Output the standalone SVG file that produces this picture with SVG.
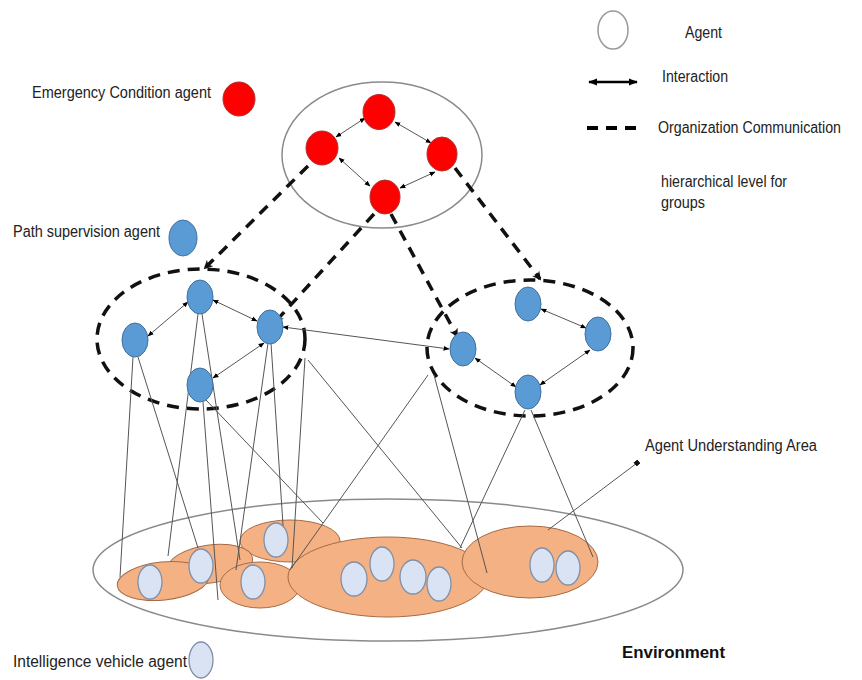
<svg xmlns="http://www.w3.org/2000/svg" width="862" height="680" viewBox="0 0 862 680">
<defs>
<marker id="ah" viewBox="0 0 10 10" refX="9" refY="5" markerWidth="6" markerHeight="6" orient="auto-start-reverse" markerUnits="userSpaceOnUse"><path d="M0,1 L10,5 L0,9 z" fill="#000"/></marker>
<marker id="ahL" viewBox="0 0 10 10" refX="9" refY="5" markerWidth="9" markerHeight="9" orient="auto-start-reverse" markerUnits="userSpaceOnUse"><path d="M0,1 L10,5 L0,9 z" fill="#000"/></marker>
<marker id="dh" viewBox="0 0 10 10" refX="8" refY="5" markerWidth="9" markerHeight="9" orient="auto" markerUnits="userSpaceOnUse"><path d="M0,0 L10,5 L0,10 L3,5 z" fill="#111"/></marker>
<marker id="dot" viewBox="0 0 10 10" refX="5" refY="5" markerWidth="5" markerHeight="5" orient="auto" markerUnits="userSpaceOnUse"><rect x="0" y="0" width="10" height="10" fill="#111"/></marker>
</defs>
<style>
.lbl{font-family:"Liberation Sans Narrow","Liberation Sans",Arial,sans-serif;font-size:16px;fill:#222}
.env{font-family:"Liberation Sans Narrow","Liberation Sans",Arial,sans-serif;font-size:17px;font-weight:bold;fill:#111}
.red{fill:#FF0000;stroke:#B03030;stroke-width:1}
.blue{fill:#5B9BD5;stroke:#41719C;stroke-width:1}
.veh{fill:#DAE3F3;stroke:#7F8FA8;stroke-width:1.3}
.area{fill:#F4B183;stroke:#A86A45;stroke-width:1}
.thin{stroke:#555;stroke-width:1;fill:none}
.ia{stroke:#555;stroke-width:1;fill:none;marker-start:url(#ah);marker-end:url(#ah)}
.dash{stroke:#111;stroke-width:3.5;stroke-dasharray:11 8;fill:none;marker-end:url(#dh)}
.dgroup{fill:none;stroke:#111;stroke-width:3.5;stroke-dasharray:12 8}
.outline{fill:none;stroke:#8a8a8a;stroke-width:1.5}
</style>
<rect width="862" height="680" fill="#fff"/>

<!-- Legend -->
<g id="legend">
  <ellipse cx="613" cy="30" rx="15" ry="19" fill="#fff" stroke="#999" stroke-width="1.5"/>
  <text class="lbl" x="685" y="38" textLength="37" lengthAdjust="spacingAndGlyphs">Agent</text>
  <line x1="589" y1="82" x2="637" y2="82" stroke="#000" stroke-width="2.5" marker-start="url(#ahL)" marker-end="url(#ahL)"/>
  <text class="lbl" x="662" y="82" textLength="66" lengthAdjust="spacingAndGlyphs">Interaction</text>
  <line x1="587" y1="128" x2="638" y2="128" stroke="#000" stroke-width="4" stroke-dasharray="11 8"/>
  <text class="lbl" x="658" y="133" font-size="13.5" textLength="183" lengthAdjust="spacingAndGlyphs">Organization Communication</text>
  <text class="lbl" x="661" y="187" textLength="126" lengthAdjust="spacingAndGlyphs">hierarchical level for</text>
  <text class="lbl" x="661" y="208" textLength="44" lengthAdjust="spacingAndGlyphs">groups</text>
</g>
<g id="legend-emergency">
  <text class="lbl" x="32" y="98" textLength="179" lengthAdjust="spacingAndGlyphs">Emergency Condition agent</text>
  <ellipse class="red" cx="239" cy="99" rx="16" ry="17"/>
</g>
<g id="legend-path">
  <text class="lbl" x="13" y="237" textLength="147" lengthAdjust="spacingAndGlyphs">Path supervision agent</text>
  <ellipse class="blue" cx="183" cy="238" rx="14" ry="18"/>
</g>
<g id="legend-vehicle">
  <text class="lbl" x="13" y="667" font-size="15" textLength="174" lengthAdjust="spacingAndGlyphs">Intelligence vehicle agent</text>
  <ellipse class="veh" cx="201" cy="660" rx="12" ry="18"/>
</g>
<g id="label-environment">
  <text class="env" x="622" y="658" textLength="103" lengthAdjust="spacingAndGlyphs">Environment</text>
</g>
<g id="label-area">
  <text class="lbl" x="645" y="451" textLength="172" lengthAdjust="spacingAndGlyphs">Agent Understanding Area</text>
</g>

<!-- Environment -->
<g id="environment">
  <ellipse class="outline" cx="388" cy="570" rx="295" ry="71"/>
</g>

<!-- Understanding areas -->
<g id="areas">
  <ellipse id="area3" class="area" cx="290" cy="541" rx="50" ry="21"/>
  <ellipse id="area2" class="area" cx="210" cy="564" rx="43" ry="19" transform="rotate(-8 210 564)"/>
  <ellipse id="area1" class="area" cx="163" cy="581" rx="46" ry="19" transform="rotate(-6 163 581)"/>
  <ellipse id="area4" class="area" cx="260" cy="585" rx="40" ry="23"/>
  <ellipse id="area5" class="area" cx="388" cy="577" rx="100" ry="40"/>
  <ellipse id="area6" class="area" cx="530" cy="562" rx="68" ry="36"/>
</g>

<!-- Group outlines -->
<g id="group-emergency">
  <ellipse class="outline" cx="382" cy="155" rx="100" ry="73"/>
</g>
<g id="group-left">
  <ellipse class="dgroup" cx="201" cy="339" rx="104" ry="70"/>
</g>
<g id="group-right">
  <ellipse class="dgroup" cx="530" cy="348" rx="103" ry="68"/>
</g>

<!-- Connectors -->
<g id="connectors">
  <!-- understanding lines -->
  <line class="thin" x1="133" y1="357" x2="120" y2="577"/>
  <line class="thin" x1="138" y1="357" x2="198" y2="548"/>
  <line class="thin" x1="198" y1="314" x2="168" y2="556"/>
  <line class="thin" x1="202" y1="314" x2="240" y2="560"/>
  <line class="thin" x1="203" y1="402" x2="218" y2="600"/>
  <line class="thin" x1="206" y1="400" x2="323" y2="523"/>
  <line class="thin" x1="268" y1="343" x2="236" y2="570"/>
  <line class="thin" x1="271" y1="343" x2="284" y2="540"/>
  <line class="thin" x1="305" y1="358" x2="292" y2="568"/>
  <line class="thin" x1="308" y1="360" x2="462" y2="548"/>
  <line class="thin" x1="428" y1="375" x2="290" y2="570"/>
  <line class="thin" x1="434" y1="375" x2="487" y2="573"/>
  <line class="thin" x1="525" y1="410" x2="460" y2="548"/>
  <line class="thin" x1="531" y1="410" x2="593" y2="557"/>
  <line class="thin" x1="548" y1="530" x2="637" y2="463" marker-end="url(#dot)"/>
  <!-- interactions: emergency -->
  <line class="ia" x1="365" y1="118" x2="336" y2="137"/>
  <line class="ia" x1="395" y1="122" x2="431" y2="143"/>
  <line class="ia" x1="435" y1="172" x2="400" y2="188"/>
  <line class="ia" x1="370" y1="186" x2="339" y2="158"/>
  <!-- interactions: left group -->
  <line class="ia" x1="148" y1="336" x2="188" y2="302"/>
  <line class="ia" x1="213" y1="300" x2="257" y2="321"/>
  <line class="ia" x1="264" y1="343" x2="213" y2="378"/>
  <!-- interactions: right group -->
  <line class="ia" x1="541" y1="309" x2="586" y2="328"/>
  <line class="ia" x1="590" y1="350" x2="540" y2="385"/>
  <line class="ia" x1="516" y1="387" x2="475" y2="358"/>
  <!-- inter-group interaction -->
  <line class="ia" x1="283" y1="327" x2="449" y2="349"/>
  <!-- organization communication -->
  <line class="dash" x1="308" y1="166" x2="205" y2="268"/>
  <line class="dash" x1="374" y1="214" x2="276" y2="321"/>
  <line class="dash" x1="391" y1="214" x2="457" y2="336"/>
  <line class="dash" x1="455" y1="168" x2="540" y2="279"/>
</g>

<!-- Emergency agents -->
<g id="red-top"><ellipse class="red" cx="379" cy="112" rx="16" ry="17.5"/></g>
<g id="red-left"><ellipse class="red" cx="322" cy="148" rx="16" ry="17"/></g>
<g id="red-right"><ellipse class="red" cx="442" cy="154" rx="15" ry="17"/></g>
<g id="red-bottom"><ellipse class="red" cx="385" cy="197" rx="15" ry="17"/></g>

<!-- Path supervision agents -->
<g id="blue-l-top"><ellipse class="blue" cx="200" cy="297" rx="13" ry="17"/></g>
<g id="blue-l-left"><ellipse class="blue" cx="135" cy="340" rx="13" ry="17"/></g>
<g id="blue-l-right"><ellipse class="blue" cx="270" cy="327" rx="13" ry="17"/></g>
<g id="blue-l-bottom"><ellipse class="blue" cx="200" cy="385" rx="13" ry="17"/></g>
<g id="blue-r-left"><ellipse class="blue" cx="463" cy="349" rx="13" ry="17"/></g>
<g id="blue-r-top"><ellipse class="blue" cx="528" cy="304" rx="13" ry="17"/></g>
<g id="blue-r-right"><ellipse class="blue" cx="598" cy="334" rx="13" ry="17"/></g>
<g id="blue-r-bottom"><ellipse class="blue" cx="528" cy="392" rx="13" ry="17"/></g>

<!-- Vehicle agents -->
<g id="veh1"><ellipse class="veh" cx="150" cy="582" rx="12" ry="17"/></g>
<g id="veh2"><ellipse class="veh" cx="201" cy="566" rx="12" ry="17"/></g>
<g id="veh3"><ellipse class="veh" cx="276" cy="540" rx="12" ry="17"/></g>
<g id="veh4"><ellipse class="veh" cx="253" cy="582" rx="12" ry="17"/></g>
<g id="veh5"><ellipse class="veh" cx="354" cy="579" rx="13" ry="17"/></g>
<g id="veh6"><ellipse class="veh" cx="382" cy="564" rx="12" ry="17"/></g>
<g id="veh7"><ellipse class="veh" cx="413" cy="577" rx="13" ry="17"/></g>
<g id="veh8"><ellipse class="veh" cx="439" cy="584" rx="12" ry="17"/></g>
<g id="veh9"><ellipse class="veh" cx="542" cy="565" rx="12" ry="17"/></g>
<g id="veh10"><ellipse class="veh" cx="568" cy="568" rx="12" ry="17"/></g>
</svg>
